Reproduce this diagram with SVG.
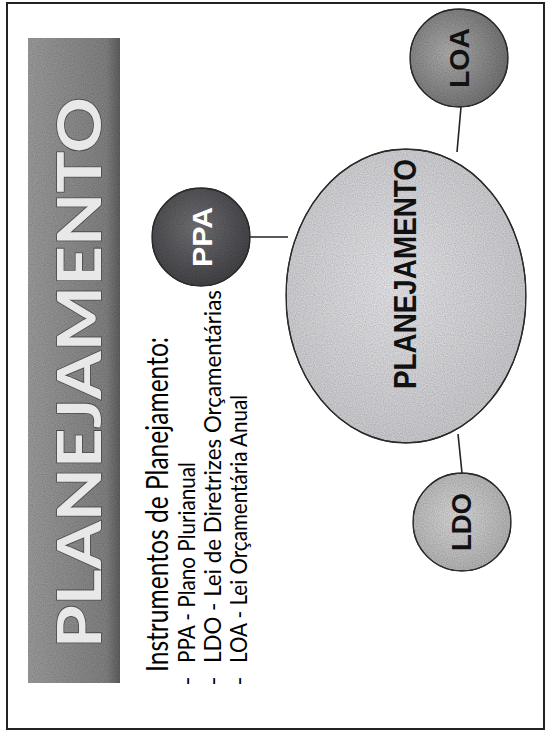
<svg xmlns="http://www.w3.org/2000/svg" width="547" height="733" viewBox="0 0 547 733">
  <style>
    .txt { font-family: Lato, "Liberation Sans", Arial, sans-serif; }
    .body { font-family: Lato, "Liberation Sans", Arial, sans-serif; font-size: 24px; fill: #000; }
    .lbl { font-family: "Liberation Sans", Arial, sans-serif; font-weight: bold; fill: #111; }
    .conn { stroke: #222; stroke-width: 1.6; fill: none; }
    .node { stroke: #2a2a2a; stroke-width: 1.3; }
  </style>
  <defs>
    <filter id="grain" x="0" y="0" width="1" height="1">
      <feTurbulence type="fractalNoise" baseFrequency="0.9" numOctaves="1" seed="3" result="noise"/>
      <feColorMatrix in="noise" type="matrix" values="0 0 0 0 0.5  0 0 0 0 0.5  0 0 0 0 0.5  0 0 0 1.2 -0.35" result="gnoise"/>
      <feComposite in="gnoise" in2="SourceGraphic" operator="in" result="clip"/>
      <feBlend in="SourceGraphic" in2="clip" mode="multiply"/>
    </filter>
    <linearGradient id="barGrad" x1="0" y1="0" x2="1" y2="0">
      <stop offset="0" stop-color="#9a9a9a"/>
      <stop offset="0.85" stop-color="#808080"/>
      <stop offset="1" stop-color="#5e5e5e"/>
    </linearGradient>
    <radialGradient id="ppaGrad" cx="0.45" cy="0.4" r="0.65">
      <stop offset="0" stop-color="#707074"/>
      <stop offset="1" stop-color="#3e3e42"/>
    </radialGradient>
    <radialGradient id="loaGrad" cx="0.4" cy="0.45" r="0.65">
      <stop offset="0" stop-color="#acacac"/>
      <stop offset="1" stop-color="#6c6c6c"/>
    </radialGradient>
    <radialGradient id="ldoGrad" cx="0.45" cy="0.45" r="0.65">
      <stop offset="0" stop-color="#d6d6d6"/>
      <stop offset="1" stop-color="#ababab"/>
    </radialGradient>
    <radialGradient id="bigGrad" cx="0.45" cy="0.45" r="0.6">
      <stop offset="0" stop-color="#e4e4e8"/>
      <stop offset="1" stop-color="#c8c8cc"/>
    </radialGradient>
  </defs>

  <rect x="0" y="0" width="547" height="733" fill="#ffffff"/>
  <rect id="frame" x="7" y="3" width="537" height="726" fill="none" stroke="#222" stroke-width="2"/>

  <g id="title">
    <rect x="28" y="38" width="92" height="645" fill="url(#barGrad)" filter="url(#grain)"/>
    <text class="txt" transform="translate(101,648) rotate(-90)" font-size="62" font-weight="bold" textLength="551" lengthAdjust="spacingAndGlyphs" fill="#e8e8e8" stroke="#4a4a4a" stroke-width="1.6" paint-order="stroke">PLANEJAMENTO</text>
  </g>

  <g id="text-list">
    <text class="txt" transform="translate(168,672) rotate(-90)" font-size="30" fill="#000" textLength="335" lengthAdjust="spacingAndGlyphs">Instrumentos de Planejamento:</text>
    <text class="body" transform="translate(195,681) rotate(-90)" text-anchor="middle">-</text>
    <text class="body" transform="translate(195,663) rotate(-90)" textLength="201" lengthAdjust="spacingAndGlyphs">PPA - Plano Plurianual</text>
    <text class="body" transform="translate(221,681) rotate(-90)" text-anchor="middle">-</text>
    <text class="body" transform="translate(221,663) rotate(-90)" textLength="373" lengthAdjust="spacingAndGlyphs">LDO - Lei de Diretrizes Orçamentárias</text>
    <text class="body" transform="translate(247,681) rotate(-90)" text-anchor="middle">-</text>
    <text class="body" transform="translate(247,663) rotate(-90)" textLength="268" lengthAdjust="spacingAndGlyphs">LOA - Lei Orçamentária Anual</text>
  </g>

  <g id="connectors">
    <line class="conn" x1="250" y1="237" x2="288" y2="237"/>
    <line class="conn" x1="461" y1="107" x2="457" y2="152"/>
    <line class="conn" x1="458" y1="434" x2="462" y2="473"/>
  </g>

  <g id="node-planejamento">
    <ellipse class="node" cx="406" cy="296" rx="120" ry="147" fill="url(#bigGrad)" filter="url(#grain)"/>
    <ellipse cx="406" cy="296" rx="120" ry="147" fill="none" stroke="#2a2a2a" stroke-width="1.3"/>
    <text class="lbl" transform="translate(416,274) rotate(-90)" font-size="31" text-anchor="middle" textLength="230" lengthAdjust="spacingAndGlyphs">PLANEJAMENTO</text>
  </g>

  <g id="node-ppa">
    <circle class="node" cx="201" cy="237" r="49" fill="url(#ppaGrad)" filter="url(#grain)"/>
    <circle cx="201" cy="237" r="49" fill="none" stroke="#2a2a2a" stroke-width="1.3"/>
    <text class="lbl" transform="translate(212,237) rotate(-90)" font-size="28" text-anchor="middle" textLength="60" lengthAdjust="spacingAndGlyphs" style="fill:#ffffff">PPA</text>
  </g>

  <g id="node-loa">
    <circle class="node" cx="459" cy="58" r="49" fill="url(#loaGrad)" filter="url(#grain)"/>
    <circle cx="459" cy="58" r="49" fill="none" stroke="#2a2a2a" stroke-width="1.3"/>
    <text class="lbl" transform="translate(469,58) rotate(-90)" font-size="28" text-anchor="middle" textLength="60" lengthAdjust="spacingAndGlyphs">LOA</text>
  </g>

  <g id="node-ldo">
    <circle class="node" cx="462" cy="522" r="49" fill="url(#ldoGrad)" filter="url(#grain)"/>
    <circle cx="462" cy="522" r="49" fill="none" stroke="#2a2a2a" stroke-width="1.3"/>
    <text class="lbl" transform="translate(471,522) rotate(-90)" font-size="28" text-anchor="middle" textLength="58" lengthAdjust="spacingAndGlyphs">LDO</text>
  </g>
</svg>
